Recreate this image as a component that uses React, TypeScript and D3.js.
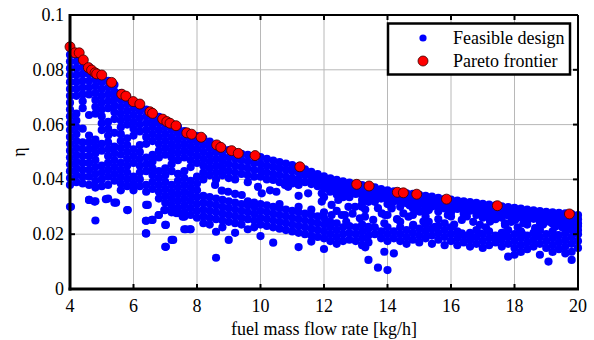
import React from 'react';
import * as d3 from 'd3';

// ---- data ----
const xTicks = [4, 6, 8, 10, 12, 14, 16, 18, 20];
const xTickLabels = ['4', '6', '8', '10', '12', '14', '16', '18', '20'];
const yTicks = [0, 0.02, 0.04, 0.06, 0.08, 0.1];
const yTickLabels = ['0', '0.02', '0.04', '0.06', '0.08', '0.1'];

// Pareto frontier points [fuel mass flow rate, eta]
const paretoFrontier: [number, number][] = [
  [4.0, .0884], [4.16, .0862], [4.29, .0862], [4.42, .0836], [4.58, .0808], [4.68, .0799],
  [4.79, .0789], [4.84, .0785], [5.0, .0781], [5.31, .0754], [5.63, .0711], [5.76, .0704],
  [5.99, .0684], [6.2, .0675], [6.52, .0647], [6.6, .0641], [6.92, .062], [7.05, .0611],
  [7.15, .0605], [7.34, .0596], [7.68, .057], [7.83, .0565], [8.13, .0554], [8.62, .0526],
  [8.75, .0517], [9.09, .0505], [9.3, .0495], [9.83, .0487], [11.24, .0446], [13.03, .0382],
  [13.42, .0376], [14.31, .0353], [14.5, .0351], [14.92, .0346], [15.86, .0328], [17.46, .0304],
  [19.73, .0274],
];

// Feasible designs, dense left block: [x, [eta values]]
const feasibleLeft: [number, number[]][] = [
  [4.0, [.088, .0855, .083, .0805, .078, .0755, .073, .0705, .068, .0655, .063, .0605, .058, .0555, .053, .0505, .048, .0455, .043, .0405, .038, .030]],
  [4.2, [.0855, .083, .0805, .078, .0755, .073, .0705, .064, .0615, .059, .0565, .054, .0515, .049, .0465, .044, .0415, .039]],
  [4.4, [.0835, .081, .0785, .076, .0735, .071, .0685, .066, .0585, .0535, .051, .0485, .046, .0435, .041, .0385]],
  [4.6, [.081, .0785, .076, .0735, .071, .0635, .056, .0535, .051, .0485, .046, .0435, .041, .038, .0325]],
  [4.8, [.079, .0765, .074, .0715, .069, .0665, .064, .0545, .052, .0495, .047, .0445, .042, .0395, .037, .032, .025]],
  [5.0, [.078, .0755, .073, .0705, .068, .0655, .063, .0605, .058, .053, .0505, .045, .0425, .040, .0375]],
  [5.2, [.076, .0735, .071, .0685, .066, .061, .0585, .056, .0535, .051, .0485, .046, .0435, .041, .038, .033]],
  [5.4, [.0745, .072, .0695, .067, .0645, .062, .057, .052, .0495, .047, .0445, .042, .0395, .0315]],
  [5.6, [.0715, .069, .0665, .064, .0615, .059, .0565, .054, .0515, .049, .046, .0435, .041, .0385, .036]],
  [5.8, [.070, .0675, .065, .0625, .060, .055, .0525, .050, .0475, .045, .0425, .040, .0375, .0288]],
  [6.0, [.0684, .066, .0635, .061, .0585, .056, .051, .0485, .046, .041, .0385, .036]],
  [6.2, [.0673, .065, .0625, .060, .0575, .0525, .050, .0475, .045, .0425, .040, .0375]],
  [6.4, [.0655, .063, .0605, .058, .0555, .053, .048, .0455, .043, .038, .0355, .0307, .0249, .0203]],
  [6.6, [.0641, .0615, .059, .0565, .054, .049, .0465, .044, .0415, .039, .0365, .0252]],
  [6.8, [.0628, .0605, .058, .0555, .053, .0505, .048, .043, .0405, .038, .0355, .033, .027]],
  [7.0, [.0613, .059, .0565, .054, .0515, .049, .044, .0415, .039, .0365, .034, .0315, .0288, .0234, .0154]],
  [7.2, [.0603, .058, .0555, .053, .0505, .048, .0455, .043, .038, .0355, .033, .0305, .028, .0179]],
  [7.4, [.0592, .057, .0545, .052, .0495, .047, .042, .0395, .037, .0345, .032, .0295, .0277]],
  [7.6, [.0576, .0555, .053, .0505, .048, .043, .0405, .038, .0355, .033, .0305, .028, .0264, .0218]],
  [7.8, [.0566, .0545, .052, .0495, .047, .0445, .0395, .037, .0345, .032, .0295, .027, .0218]],
  [8.0, [.0558, .0535, .051, .0485, .046, .041, .0385, .036, .0335, .031, .0285, .026]],
];

// Feasible designs, upper band just under the frontier
const feasibleUpper: [number, number[]][] = [
  [8.2, [.055, .0525, .050, .0475, .045, .0425, .040]],
  [8.4, [.0538, .0515, .049, .0465, .044, .0415]],
  [8.6, [.0527, .050, .0475, .045, .0425, .040]],
  [8.8, [.0515, .049, .0465, .044, .0415]],
  [9.0, [.0507, .048, .0455, .043, .0405]],
  [9.2, [.0499, .0475, .045, .0425, .040]],
  [9.4, [.0493, .047, .0445, .042]],
  [9.6, [.049, .0465, .044, .0415, .039]],
  [9.8, [.0486, .046, .0435, .041]],
  [10.0, [.0481, .0457, .0433, .041]],
  [10.2, [.0475, .045, .0425, .040]],
  [10.4, [.0469, .0445, .042, .0398]],
  [10.6, [.0463, .044, .0415, .039]],
  [10.8, [.0458, .0435, .041, .0388]],
  [11.0, [.0452, .043, .0405, .0385]],
  [11.2, [.0447, .0425, .040, .038]],
  [11.4, [.0437, .0415, .039]],
  [11.6, [.0428, .0405, .0383]],
  [11.8, [.0419, .0397, .0375]],
  [12.0, [.0411, .039, .0368]],
  [12.2, [.0404, .0386, .0368]],
  [12.4, [.0398, .038, .0362, .0345]],
  [12.6, [.0393, .0375, .0357]],
  [12.8, [.0388, .037, .0352, .0335]],
  [13.0, [.0383, .0365, .0347]],
  [13.2, [.0379, .0361, .0343, .0325]],
  [13.4, [.0376, .0358, .034]],
  [13.6, [.0371, .0353, .0335, .0318]],
  [13.8, [.0365, .0347, .033]],
  [14.0, [.036, .0342, .0325, .031]],
  [14.2, [.0356, .0338, .032]],
  [14.4, [.0352, .0334, .0316, .030]],
  [14.6, [.0349, .0331, .0313]],
  [14.8, [.0347, .0329, .0311, .0295]],
  [15.0, [.0344, .0326, .0308]],
  [15.2, [.034, .0322, .0305, .029]],
  [15.4, [.0337, .0319, .0301]],
  [15.6, [.0333, .0315, .0298, .0283]],
  [15.8, [.0329, .0311, .0294]],
  [16.0, [.0326, .031, .0295, .028]],
  [16.2, [.0323, .0307, .0292]],
  [16.4, [.032, .0304, .0289, .0275]],
  [16.6, [.0317, .0301, .0286]],
  [16.8, [.0314, .0298, .0283, .027]],
  [17.0, [.0311, .0295, .028]],
  [17.2, [.0308, .0292, .0277, .0265]],
  [17.4, [.0305, .0289, .0274]],
  [17.6, [.0302, .0286, .0271, .026]],
  [17.8, [.0299, .0283, .0268]],
  [18.0, [.0296, .028, .0265, .0254]],
  [18.2, [.0293, .0277, .0262]],
  [18.4, [.029, .0274, .0259, .0248]],
  [18.6, [.0287, .0271, .0256]],
  [18.8, [.0284, .0268, .0253, .0243]],
  [19.0, [.0282, .0266, .0251]],
  [19.2, [.028, .0264, .0249, .0238]],
  [19.4, [.0278, .0262, .0247]],
  [19.6, [.0276, .026, .0245, .0235]],
  [19.8, [.0273, .0257, .0242]],
  [20.0, [.027, .0255, .024, .023]],
];

// Feasible designs, scattered between the bands
const feasibleMiddle: [number, number][] = [
  [8.57, .038], [8.78, .0359], [8.98, .0355], [9.2, .0347], [9.41, .0343], [9.92, .0373],
  [10.04, .0349], [10.77, .038], [10.87, .0373], [11.5, .0349], [11.93, .0349], [11.93, .0319],
  [10.5, .0355], [11.2, .034], [10.3, .036],
  [12.19, .0355], [12.45, .0325], [12.77, .030], [13.19, .030], [13.61, .0325], [14.13, .030],
  [14.55, .0325], [14.97, .0288], [15.5, .0325], [15.92, .030], [12.66, .027], [13.29, .0264],
  [13.92, .027], [14.66, .0264], [12.24, .027],
  [12.19, .0246], [12.56, .027], [12.98, .030], [13.13, .0258], [13.4, .0227], [13.55, .0252],
  [13.82, .0276], [14.5, .0276], [14.81, .0234], [15.02, .0282], [15.13, .0246], [15.5, .0227],
  [12.24, .0307], [13.19, .0307], [14.13, .0294],
  [12.4, .0285], [12.9, .0275], [13.3, .029], [13.7, .0295], [14.0, .027], [14.3, .0255],
  [14.8, .027], [15.2, .0265], [15.6, .0255], [15.9, .027], [12.7, .0245], [13.9, .024],
  [14.4, .0245], [15.3, .0245], [15.8, .024], [12.0, .0335], [12.6, .0335], [13.4, .0318],
  [14.7, .0305], [15.3, .0288], [16.0, .0265],
  [16.34, .0252], [16.34, .0203], [16.6, .0191], [16.91, .0234], [17.23, .0246], [17.7, .0234],
  [17.7, .0203], [18.02, .0252], [18.28, .024], [18.65, .0222], [18.65, .0203], [19.28, .0227],
  [19.75, .0227], [19.8, .0258], [19.38, .0197], [17.23, .0252], [17.7, .024], [19.28, .0234],
  [19.75, .0222], [16.91, .0203], [17.49, .0191], [18.23, .0203],
  [16.5, .0265], [16.7, .0245], [17.0, .026], [17.4, .0255], [17.9, .0245], [18.4, .0235],
  [18.9, .0235], [19.1, .0245], [19.5, .0225], [20.0, .0215], [16.1, .0235], [17.1, .0225],
  [18.1, .0225], [19.9, .0245],
  [4.03, .030], [4.6, .0325], [4.77, .0319], [5.13, .0328], [5.45, .0315], [5.82, .0288],
  [6.45, .0307], [6.39, .0249], [6.58, .0252], [6.39, .0203], [7.02, .0154], [7.25, .0179],
  [7.02, .0234], [6.79, .027], [7.65, .0218], [7.78, .0218], [7.34, .0277], [7.55, .0264],
  [6.97, .0288],
];

// Feasible designs, lower band
const feasibleLower: [number, number[]][] = [
  [8.2, [.034, .0315, .029, .0265, .024]],
  [8.4, [.0335, .031, .0285, .026, .0235]],
  [8.6, [.033, .0305, .028, .0255, .0209, .0114]],
  [8.8, [.0325, .030, .0275, .025, .0225]],
  [9.0, [.032, .0295, .027, .0245, .0179]],
  [9.2, [.0315, .029, .0265, .024, .0205]],
  [9.4, [.031, .0285, .026, .0235]],
  [9.6, [.032, .0305, .028, .0255, .0218]],
  [9.8, [.0315, .030, .0275, .025, .0225]],
  [10.0, [.031, .0285, .026, .0235, .0193]],
  [10.2, [.0305, .028, .0255, .023]],
  [10.4, [.030, .0275, .025, .0225, .0169]],
  [10.6, [.031, .0295, .027, .0245, .022]],
  [10.8, [.029, .0265, .024, .0215]],
  [11.0, [.0285, .026, .0235, .021]],
  [11.2, [.030, .028, .0255, .023, .0205, .0153]],
  [11.4, [.0275, .025, .0225, .020]],
  [11.6, [.029, .027, .0245, .022, .0195, .0173]],
  [11.8, [.0265, .024, .0215, .019]],
  [12.0, [.028, .026, .0235, .021, .0185, .0146]],
  [12.2, [.0225, .020, .0175]],
  [12.4, [.024, .0215, .019, .0165]],
  [12.6, [.0225, .020, .0175]],
  [12.8, [.023, .0205, .018]],
  [13.0, [.0225, .020, .0175]],
  [13.2, [.0235, .021, .0185, .016]],
  [13.3, [.0152]],
  [13.4, [.022, .0195, .017, .0106]],
  [13.6, [.0225, .020]],
  [13.7, [.0078]],
  [13.8, [.021, .0185]],
  [13.9, [.0136]],
  [14.0, [.0225, .020, .0175, .0069]],
  [14.2, [.021, .0185, .013]],
  [14.4, [.0225, .020, .0175]],
  [14.6, [.0215, .019, .0165]],
  [14.8, [.023, .0205, .018]],
  [15.0, [.022, .0195, .017]],
  [15.2, [.0235, .021, .0185]],
  [15.4, [.022, .0195, .0165]],
  [15.6, [.023, .0205, .018]],
  [15.8, [.0215, .019, .016]],
  [16.0, [.0225, .020, .0175]],
  [16.2, [.021, .0185, .016]],
  [16.4, [.0195, .017]],
  [16.6, [.0205, .018, .0155]],
  [16.8, [.0215, .019, .0165]],
  [17.0, [.020, .0175, .015]],
  [17.2, [.021, .0185, .016]],
  [17.4, [.0195, .017]],
  [17.6, [.0205, .018, .0155]],
  [17.8, [.0215, .019, .0165, .0118]],
  [18.0, [.020, .0175, .015, .0125]],
  [18.2, [.021, .0185, .016, .0135]],
  [18.4, [.0195, .017, .0145]],
  [18.6, [.0205, .018, .0155]],
  [18.8, [.0215, .019, .0165, .0125]],
  [19.0, [.020, .0175, .015]],
  [19.07, [.010]],
  [19.2, [.021, .0185, .016, .0135]],
  [19.4, [.0195, .017, .0145]],
  [19.6, [.0205, .018, .0155, .013]],
  [19.8, [.0215, .019, .0165, .0106, .0136]],
  [20.0, [.020, .0175, .015]],
];

const legendLabels = ['Feasible design', 'Pareto frontier'];

const FONT = 'Liberation Serif, "Times New Roman", "DejaVu Serif", serif';
const textStyle: React.CSSProperties = { fontFamily: FONT, fontSize: 18 };

function flatten(cols: [number, number[]][]): [number, number][] {
  const out: [number, number][] = [];
  cols.forEach(([xv, ys]) => ys.forEach((yv) => out.push([xv, yv])));
  return out;
}

export default function App() {
  const left = 70, right = 578, top = 15, bottom = 289;
  const x = d3.scaleLinear().domain([4, 20]).range([left, right]);
  const y = d3.scaleLinear().domain([0, 0.1]).range([bottom, top]);

  const blue: [number, number][] = [
    ...flatten(feasibleLeft),
    ...flatten(feasibleUpper),
    ...feasibleMiddle,
    ...flatten(feasibleLower),
  ];

  return (
    <svg width={594} height={340} style={{ position: 'absolute', left: 0, top: 0, background: '#fff' }}>
      <rect x={0} y={0} width={594} height={340} fill="#fff" />
      {/* grid */}
      <g stroke="#b8b8b8" strokeWidth={1}>
        {xTicks.slice(1, -1).map((t) => (
          <line key={'gx' + t} x1={x(t)} x2={x(t)} y1={top} y2={bottom} />
        ))}
        {yTicks.slice(1, -1).map((t) => (
          <line key={'gy' + t} x1={left} x2={right} y1={y(t)} y2={y(t)} />
        ))}
      </g>
      {/* feasible points */}
      <g fill="#0000ff">
        {blue.map(([a, b], i) => (
          <circle key={'b' + i} cx={x(a)} cy={y(b)} r={4.1} />
        ))}
      </g>
      {/* pareto points */}
      <g fill="#ff0000" stroke="#3a0000" strokeWidth={0.8}>
        {paretoFrontier.map(([a, b], i) => (
          <circle key={'r' + i} cx={x(a)} cy={y(b)} r={5} />
        ))}
      </g>
      {/* frame */}
      <g stroke="#000" fill="none">
        <line x1={left} x2={right} y1={top} y2={top} strokeWidth={2} />
        <line x1={right} x2={right} y1={top} y2={bottom} strokeWidth={2} />
        <line x1={left} x2={left} y1={top - 1} y2={bottom + 1.5} strokeWidth={3} />
        <line x1={left - 1.5} x2={right + 1} y1={bottom} y2={bottom} strokeWidth={3} />
        {xTicks.slice(1, -1).map((t) => (
          <g key={'tx' + t}>
            <line x1={x(t)} x2={x(t)} y1={bottom} y2={bottom - 5} strokeWidth={2} />
            <line x1={x(t)} x2={x(t)} y1={top} y2={top + 5} strokeWidth={2} />
          </g>
        ))}
        {yTicks.slice(1, -1).map((t) => (
          <g key={'ty' + t}>
            <line x1={left} x2={left + 5} y1={y(t)} y2={y(t)} strokeWidth={2} />
            <line x1={right} x2={right - 5} y1={y(t)} y2={y(t)} strokeWidth={2} />
          </g>
        ))}
      </g>
      {/* tick labels */}
      <g fill="#000">
        {xTicks.map((t, i) => (
          <text key={'lx' + t} x={x(t)} y={312} textAnchor="middle" style={textStyle}>{xTickLabels[i]}</text>
        ))}
        {yTicks.map((t, i) => (
          <text key={'ly' + t} x={64} y={y(t) + 6} textAnchor="end" style={textStyle}>{yTickLabels[i]}</text>
        ))}
      </g>
      {/* axis titles */}
      <text x={(left + right) / 2} y={335} textAnchor="middle" style={textStyle}>fuel mass flow rate [kg/h]</text>
      <text transform={`translate(25, ${(top + bottom) / 2}) rotate(-90)`} textAnchor="middle" style={textStyle}>η</text>
      {/* legend */}
      <g>
        <rect x={388} y={23.5} width={182} height={51} fill="#fff" stroke="#000" strokeWidth={2.5} />
        <circle cx={423} cy={38} r={3.6} fill="#0000ff" />
        <circle cx={423} cy={61} r={5} fill="#ff0000" stroke="#3a0000" strokeWidth={0.8} />
        <text x={453} y={44} style={textStyle}>{legendLabels[0]}</text>
        <text x={453} y={67} style={textStyle}>{legendLabels[1]}</text>
      </g>
    </svg>
  );
}
